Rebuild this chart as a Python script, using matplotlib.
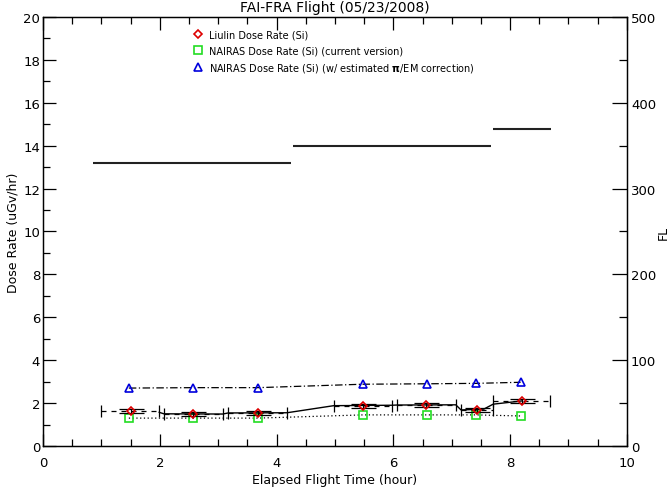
import matplotlib
matplotlib.use('Agg')
import matplotlib.pyplot as plt
from matplotlib.ticker import MultipleLocator

plt.rcParams['font.family'] = 'DejaVu Sans'

# Liulin averaged dose rate (Si), with averaging windows
liulin_t = [1.50, 2.57, 3.68, 5.48, 6.56, 7.43, 8.20]
liulin_dose = [1.63, 1.49, 1.54, 1.86, 1.91, 1.68, 2.10]
liulin_t_start = [0.99, 2.07, 3.17, 4.98, 6.06, 7.16, 7.71]
liulin_t_end = [1.99, 3.08, 4.18, 5.98, 7.07, 7.71, 8.68]
liulin_err = [0.09, 0.09, 0.09, 0.09, 0.09, 0.09, 0.09]

# Liulin trace (solid line)
trace_t = [1.99, 2.07, 3.08, 3.17, 4.18, 4.98, 5.98, 6.06, 7.07, 7.16, 7.55, 7.71, 8.20]
trace_dose = [1.57, 1.50, 1.49, 1.54, 1.55, 1.88, 1.90, 1.91, 1.92, 1.68, 1.72, 1.95, 2.10]

# NAIRAS model
nairas_t = [1.47, 2.57, 3.68, 5.48, 6.58, 7.41, 8.18]
nairas_dose = [1.30, 1.30, 1.30, 1.45, 1.45, 1.45, 1.40]
nairas_pi_dose = [2.70, 2.72, 2.72, 2.88, 2.90, 2.92, 2.97]

# flight levels
fl_start = [0.86, 4.28, 7.70]
fl_end = [4.25, 7.67, 8.70]
fl_level = [330, 350, 370]

fig = plt.figure(figsize=(6.69, 4.89), dpi=100)
ax = fig.add_axes([0.0643, 0.0859, 0.8727, 0.8773])

# NAIRAS with pi/EM correction
ax.plot(nairas_t, nairas_pi_dose, color='black', lw=0.9, ls=(0, (6, 2, 1, 2)))
ax.plot(nairas_t, nairas_pi_dose, ls='none', marker='^', ms=6, mfc='none',
        mec='#0000dd', mew=1.2,
        label='NAIRAS Dose Rate (Si) (w/ estimated $\\mathbf{\\pi}$/EM correction)')

# NAIRAS current version
ax.plot(nairas_t, nairas_dose, color='black', lw=0.9, ls=(0, (1, 2)))
ax.plot(nairas_t, nairas_dose, ls='none', marker='s', ms=6, mfc='none',
        mec='#22dd22', mew=1.2, label='NAIRAS Dose Rate (Si) (current version)')

# Liulin
ax.plot(trace_t, trace_dose, color='black', lw=1.0)
ax.hlines(liulin_dose, liulin_t_start, liulin_t_end, colors='black', lw=0.9,
          linestyles=(0, (4, 4)))
cap_lo = [d - 0.27 for d in liulin_dose]
cap_hi = [d + 0.27 for d in liulin_dose]
ax.vlines(liulin_t_start, cap_lo, cap_hi, colors='black', lw=0.9)
ax.vlines(liulin_t_end, cap_lo, cap_hi, colors='black', lw=0.9)
ax.errorbar(liulin_t, liulin_dose, yerr=liulin_err, fmt='none', ecolor='black',
            elinewidth=0.8, capsize=9, capthick=0.9)
ax.plot(liulin_t, liulin_dose, ls='none', marker='D', ms=4.5, mfc='none',
        mec='#dd0000', mew=1.2, label='Liulin Dose Rate (Si)')

ax.set_xlim(0, 10)
ax.set_ylim(0, 20)
ax.xaxis.set_major_locator(MultipleLocator(2))
ax.xaxis.set_minor_locator(MultipleLocator(0.5))
ax.yaxis.set_major_locator(MultipleLocator(2))
ax.yaxis.set_minor_locator(MultipleLocator(1))
ax.tick_params(which='both', direction='in', top=True, width=0.9, labelsize=9.5,
               colors='black')
ax.tick_params(axis='y', pad=2)
ax.tick_params(axis='x', pad=7)
ax.tick_params(which='major', length=9)
ax.tick_params(which='minor', length=5)
ax.set_xlabel('Elapsed Flight Time (hour)', fontsize=9, labelpad=3)
ax.set_ylabel('Dose Rate (uGv/hr)', fontsize=9, labelpad=3)
ax.set_title('FAI-FRA Flight (05/23/2008)', fontsize=10, pad=4)

h, l = ax.get_legend_handles_labels()
ax.legend(h[::-1], l[::-1], loc='upper left', bbox_to_anchor=(0.25, 0.98),
          frameon=False, fontsize=7, handlelength=1.0, handletextpad=0.7,
          labelspacing=0.6, borderaxespad=0)

# flight level on right axis
ax2 = ax.twinx()
ax2.hlines(fl_level, fl_start, fl_end, colors='#222222', lw=1.5)
ax2.set_ylim(0, 500)
ax2.yaxis.set_major_locator(MultipleLocator(100))
ax2.yaxis.set_minor_locator(MultipleLocator(50))
ax2.tick_params(which='both', direction='in', width=0.9, labelsize=9.5, pad=3)
ax2.tick_params(which='major', length=11)
ax2.tick_params(which='minor', length=6)
ax2.set_ylabel('FL', fontsize=9)
ax2.yaxis.set_label_coords(1.052, 0.5)

for a in (ax, ax2):
    for s in a.spines.values():
        s.set_linewidth(0.9)

fig.savefig('out.png', dpi=100)
